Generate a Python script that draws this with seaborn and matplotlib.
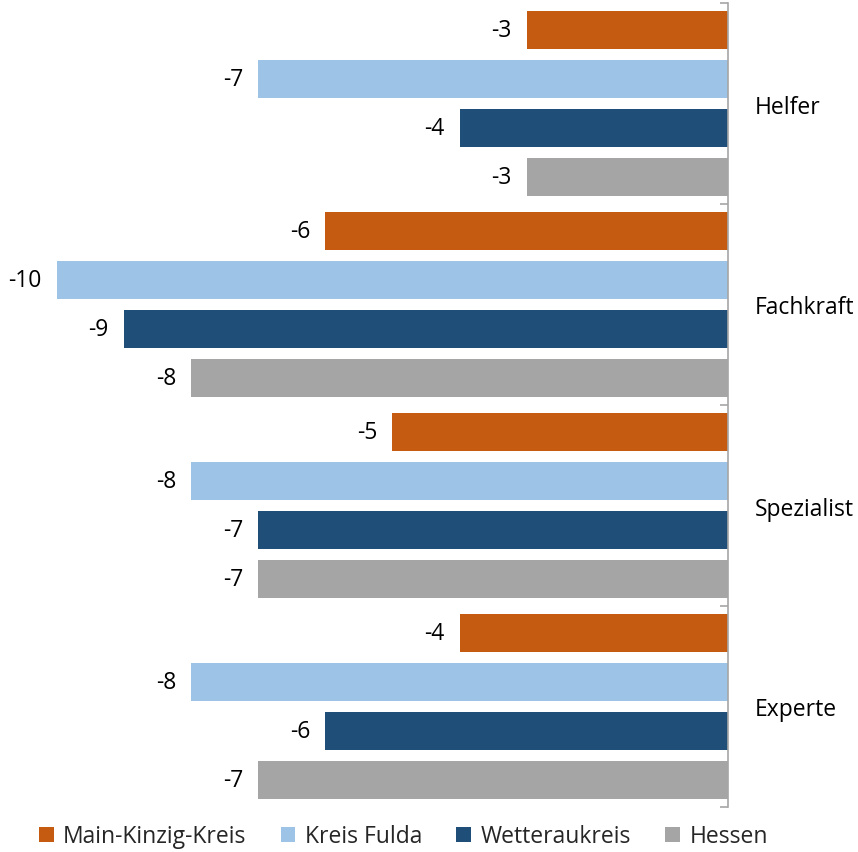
import matplotlib
matplotlib.use("Agg")
import matplotlib.pyplot as plt
import seaborn as sns
import pandas as pd
from matplotlib.patches import Patch

categories = ["Helfer", "Fachkraft", "Spezialist", "Experte"]
series = ["Main-Kinzig-Kreis", "Kreis Fulda", "Wetteraukreis", "Hessen"]
main_kinzig = [-3, -6, -5, -4]
kreis_fulda = [-7, -10, -8, -8]
wetterau = [-4, -9, -7, -6]
hessen = [-3, -8, -7, -7]
colors = ["#C55A11", "#9DC3E6", "#1F4E79", "#A5A5A5"]

values = [main_kinzig, kreis_fulda, wetterau, hessen]
rows = []
for s, vals in zip(series, values):
    for c, v in zip(categories, vals):
        rows.append({"cat": c, "series": s, "value": v})
df = pd.DataFrame(rows)

sns.set_theme(style="white")
plt.rcParams["font.family"] = ["Open Sans", "DejaVu Sans"]

fig = plt.figure(figsize=(8.58, 8.53), dpi=100)
ax = fig.add_axes([57 / 858, 1 - 808 / 853, (728 - 57) / 858, (808 - 4) / 853])

sns.barplot(data=df, y="cat", x="value", hue="series", order=categories,
            hue_order=series, palette=colors, orient="h", width=0.975,
            saturation=1, legend=False, ax=ax, errorbar=None)

bar_h = 0.19
for p in ax.patches:
    cy = p.get_y() + p.get_height() / 2
    p.set_height(bar_h)
    p.set_y(cy - bar_h / 2)
    p.set_linewidth(0)

for cont in ax.containers:
    ax.bar_label(cont, fmt="%d", padding=11, fontsize=16.5, color="black")

ax.set_xlim(-10, 0)
ax.set_ylim(3.5, -0.5)
ax.set_xlabel("")
ax.set_ylabel("")
ax.set_xticks([])

for side in ["top", "left", "bottom"]:
    ax.spines[side].set_visible(False)
ax.spines["right"].set_visible(True)
ax.spines["right"].set_color("#A6A6A6")
ax.spines["right"].set_linewidth(1.2)

ax.yaxis.tick_right()
ax.set_yticks(range(len(categories)))
ax.set_yticklabels(categories, fontsize=16.5, color="black")
ax.set_yticks([-0.5, 0.5, 1.5, 2.5, 3.5], minor=True)
ax.tick_params(axis="y", which="major", length=0, pad=19)
ax.tick_params(axis="y", which="minor", direction="in", length=6,
               width=1.2, color="#A6A6A6", right=True, left=False)

handles = [Patch(facecolor=c, edgecolor="none", label=s) for c, s in zip(colors, series)]
fig.legend(handles=handles, loc="lower center", bbox_to_anchor=(0.47, -0.02),
           ncol=4, frameon=False, fontsize=16.5, handlelength=0.65,
           handleheight=0.65, handletextpad=0.4, columnspacing=1.5)

fig.savefig("out.png", dpi=100)
